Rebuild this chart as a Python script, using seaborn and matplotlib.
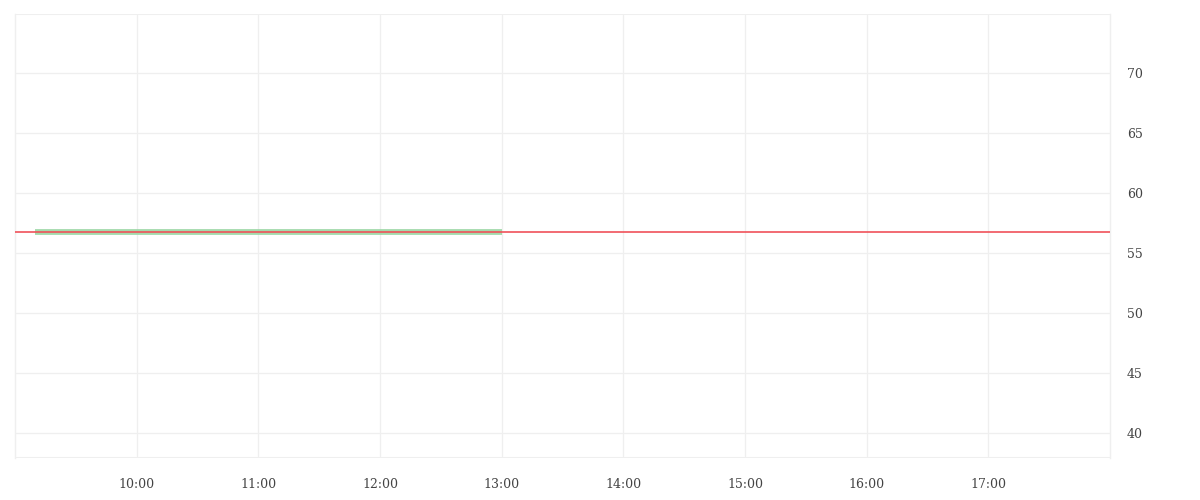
import pandas as pd
import matplotlib
matplotlib.use("Agg")
import matplotlib.pyplot as plt
import matplotlib.dates as mdates
import seaborn as sns

# ------------------------
# Data
# ------------------------
times = ["09:10", "09:30", "10:00", "10:30", "11:00", "11:30", "12:00", "12:30", "13:00"]
prices = [56.8, 56.8, 56.8, 56.8, 56.8, 56.8, 56.8, 56.8, 56.8]
last_price = 56.8
y_ticks = [40, 45, 50, 55, 60, 65, 70]
x_ticks = ["10:00", "11:00", "12:00", "13:00", "14:00", "15:00", "16:00", "17:00"]

day = "2024-01-02 "
df = pd.DataFrame({"time": pd.to_datetime([day + t for t in times]), "price": prices})

sns.set_style("white")
plt.rcParams["font.family"] = ["DejaVu Serif", "DejaVu Sans"]

grid_col = "#efefef"

fig = plt.figure(figsize=(12, 5), dpi=100)
ax = fig.add_axes([15 / 1200, 1 - 458 / 500, 1095 / 1200, 444 / 500])

sns.lineplot(data=df, x="time", y="price", ax=ax, color="#9ad6a4", linewidth=4.2,
             alpha=0.9, solid_capstyle="butt")
ax.axhline(last_price, color="#f0525a", linewidth=1.2, zorder=3)

ax.set_xlim(pd.Timestamp(day + "09:00"), pd.Timestamp(day + "18:00"))
ax.set_ylim(37.95, 74.95)

ax.set_xticks(pd.to_datetime([day + t for t in x_ticks]))
ax.xaxis.set_major_formatter(mdates.DateFormatter("%H:%M"))
ax.set_xticks(pd.to_datetime([day + "09:00", day + "18:00"]), minor=True)
ax.set_yticks(y_ticks)
ax.yaxis.tick_right()

ax.grid(True, color=grid_col, linewidth=0.9)
ax.axhline(74.95, color=grid_col, linewidth=1.5, zorder=0)
ax.axhline(37.95, color=grid_col, linewidth=1.5, zorder=0)

for side in ["top", "bottom"]:
    ax.spines[side].set_visible(False)
for side in ["left", "right"]:
    ax.spines[side].set_color(grid_col)
    ax.spines[side].set_linewidth(1.0)

ax.tick_params(axis="x", which="both", direction="out", length=7.5, width=1.0,
               color=grid_col, pad=7, labelsize=9, labelcolor="#444444")
ax.tick_params(axis="y", length=0, pad=12, labelsize=9, labelcolor="#444444")

ax.set_xlabel("")
ax.set_ylabel("")

plt.savefig("out.png", dpi=100)
